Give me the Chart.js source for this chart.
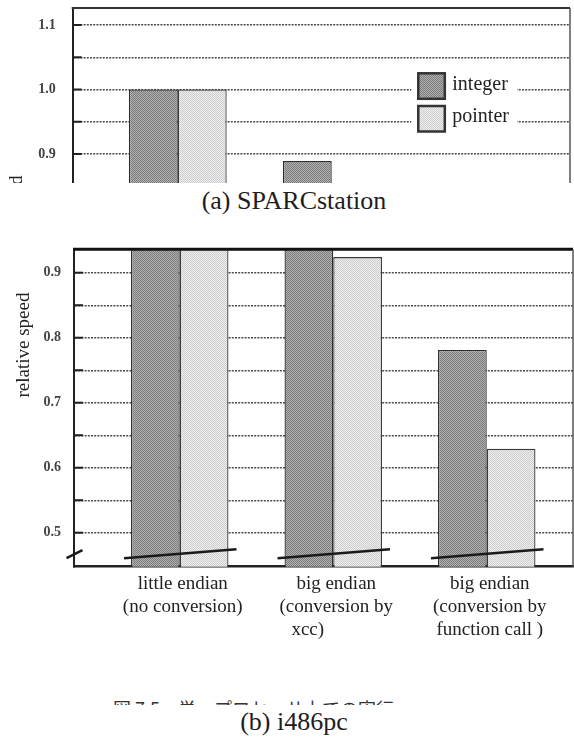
<!DOCTYPE html>
<html lang="ja">
<head>
<meta charset="utf-8">
<title>relative speed</title>
<script src="https://cdn.jsdelivr.net/npm/chart.js@4.4.1/dist/chart.umd.min.js"></script>
<style>
  html, body { margin: 0; padding: 0; background: #fff; }
  body { width: 574px; height: 740px; position: relative; overflow: hidden;
         font-family: "Liberation Serif", "Times New Roman", serif; color: #1e1e1e; }
  #panelA { position: absolute; left: 0; top: 0; width: 574px; height: 183px; }
  #panelB { position: absolute; left: 0; top: 230px; width: 574px; height: 430px; }
  .caption { position: absolute; left: 144px; width: 300px; text-align: center;
             font-size: 26px; line-height: 26px; }
  #capA { top: 188px; }
  #capB { top: 709px; }
  #figNote { position: absolute; left: 113px; top: 699px; height: 5.5px; overflow: hidden;
             font-family: "Noto Sans CJK JP", sans-serif; font-size: 18px; line-height: 18px;
             color: #333; white-space: nowrap; }
</style>
</head>
<body>
<div id="panelA"><canvas id="chartA" width="574" height="183"></canvas></div>
<div class="caption" id="capA">(a) SPARCstation</div>
<div id="panelB"><canvas id="chartB" width="574" height="430"></canvas></div>
<div id="figNote">図 7.5　単一プロセッサ上での実行</div>
<div class="caption" id="capB">(b) i486pc</div>

<script>
// 1. データ
const groupLabels = [
  ["little endian", "(no conversion)"],
  ["big endian", "(conversion by", "xcc)\u2003\u2003\u2003"],
  ["big endian", "(conversion by", "function call )"]
];
const seriesNames = ["integer", "pointer"];
const yTitle = "relative speed";

// (a) SPARCstation : 下側は切れているので見えない棒は null
const sparcInteger = [1.0, 0.889, null];
const sparcPointer = [1.0, null, null];
const sparcTickLabels = [0.9, 1.0, 1.1];

// (b) i486pc
const pcInteger = [1.0, 0.96, 0.781];
const pcPointer = [1.0, 0.924, 0.629];
const pcTickLabels = [0.5, 0.6, 0.7, 0.8, 0.9];

Chart.defaults.font.family = '"Liberation Serif", "Times New Roman", serif';
Chart.defaults.color = '#222';

// 2. 網かけ（スクリーントーン風）
function makeTone(c1, c2) {
  const pc = document.createElement('canvas');
  pc.width = 2; pc.height = 2;
  const p = pc.getContext('2d');
  p.fillStyle = c2; p.fillRect(0, 0, 2, 2);
  p.fillStyle = c1; p.fillRect(0, 0, 1, 1); p.fillRect(1, 1, 1, 1);
  return p.createPattern(pc, 'repeat');
}
const darkTone = makeTone('#7a7a7a', '#b2b2b2');
const lightTone = makeTone('#cdcdcd', '#efefef');

const toPoints = arr => arr.map((v, i) => ({ x: i, y: v }));
const tickText = labels => v => labels.some(l => Math.abs(l - v) < 1e-6) ? v.toFixed(1) : '';
const groupTicks = s => { s.ticks = groupLabels.map((g, i) => ({ value: i })); };

// 3. 枠・目盛り・省略線
const framePlugin = {
  id: 'frame',
  afterDatasetsDraw(chart, args, opts) {
    const { ctx, chartArea: a, scales: { y } } = chart;
    ctx.save();
    ctx.strokeStyle = '#222';
    ctx.lineWidth = 2;
    y.ticks.forEach(t => {
      const py = y.getPixelForValue(t.value);
      if (py > a.bottom - 4) return;
      ctx.beginPath(); ctx.moveTo(a.left, py); ctx.lineTo(a.left + 9, py); ctx.stroke();
    });
    // 上の枠
    ctx.strokeStyle = opts.topColor;
    ctx.lineWidth = opts.topWidth;
    ctx.beginPath(); ctx.moveTo(a.left - 1, a.top); ctx.lineTo(a.right, a.top); ctx.stroke();
    // 右の枠
    ctx.strokeStyle = '#555';
    ctx.lineWidth = 1.5;
    ctx.beginPath(); ctx.moveTo(a.right, a.top); ctx.lineTo(a.right, a.bottom); ctx.stroke();

    if (opts.breaks) {
      ctx.strokeStyle = '#1a1a1a';
      ctx.lineWidth = 2.5;
      ctx.beginPath(); ctx.moveTo(a.left - 7.5, a.bottom - 8.5); ctx.lineTo(a.left + 8.5, a.bottom - 16.5); ctx.stroke();
      const m0 = chart.getDatasetMeta(0).data;
      const m1 = chart.getDatasetMeta(1).data;
      m0.forEach((el, i) => {
        const el2 = m1[i];
        if (!el2) return;
        ctx.beginPath();
        ctx.moveTo(el.x - el.width / 2 - 7, a.bottom - 8.5);
        ctx.lineTo(el2.x + el2.width / 2 + 8, a.bottom - 17.5);
        ctx.stroke();
      });
    }
    ctx.restore();
  }
};

// 凡例（枠の中に白抜きで描く）
const boxLegend = {
  id: 'boxLegend',
  afterDatasetsDraw(chart, args, opts) {
    if (!opts.show) return;
    const { ctx, chartArea: a } = chart;
    const x0 = a.left + opts.dx, y0 = a.top + opts.dy;
    ctx.save();
    ctx.fillStyle = '#fff';
    ctx.fillRect(x0 - 7, y0 - 8, 106, 74);
    chart.data.datasets.forEach((ds, i) => {
      const by = y0 + i * 32.7;
      ctx.fillStyle = ds.backgroundColor;
      ctx.fillRect(x0, by, 26.5, 25.5);
      ctx.strokeStyle = '#333';
      ctx.lineWidth = 2.5;
      ctx.strokeRect(x0, by, 26.5, 25.5);
      ctx.fillStyle = '#222';
      ctx.font = '20px "Liberation Serif"';
      ctx.textBaseline = 'middle';
      ctx.fillText(ds.label, x0 + 34, by + 11);
    });
    ctx.restore();
  }
};

// 縦軸タイトル
const yTitlePlugin = {
  id: 'yTitle',
  afterDraw(chart, args, opts) {
    const { ctx, chartArea: a } = chart;
    ctx.save();
    ctx.translate(opts.x, a.top + opts.dy);
    ctx.rotate(-Math.PI / 2);
    ctx.font = '19px "Liberation Serif"';
    ctx.fillStyle = '#222';
    ctx.textAlign = 'center';
    ctx.textBaseline = 'alphabetic';
    ctx.fillText(yTitle, 0, 0);
    ctx.restore();
  }
};

function makeDatasets(intData, ptrData) {
  return [
    { label: seriesNames[0], data: toPoints(intData), backgroundColor: darkTone,
      borderColor: '#2e2e2e', borderWidth: 1.3, categoryPercentage: 0.635, barPercentage: 1 },
    { label: seriesNames[1], data: toPoints(ptrData), backgroundColor: lightTone,
      borderColor: '#3a3a3a', borderWidth: 1.3, categoryPercentage: 0.635, barPercentage: 1 }
  ];
}

function yScale(min, max, labels, width, pad) {
  return {
    min: min, max: max,
    afterFit: s => { s.width = width; s.paddingTop = 0; s.paddingBottom = 0; },
    ticks: { stepSize: 0.05, includeBounds: false, padding: pad, color: '#444',
             font: { size: 14, weight: 'bold' }, callback: tickText(labels) },
    grid: { drawTicks: false, lineWidth: 1.4,
            color: c => (c.tick && c.tick.value < 0.49) ? 'rgba(0,0,0,0)' : '#4a4a4a' },
    border: { display: true, color: '#222', width: 2, dash: [2, 1.2] }
  };
}

// 4. (a) SPARCstation
new Chart(document.getElementById('chartA'), {
  type: 'bar',
  data: { datasets: makeDatasets(sparcInteger, sparcPointer) },
  options: {
    responsive: false, animation: false,
    layout: { autoPadding: false, padding: { left: 0, right: 4, top: 8, bottom: 0 } },
    scales: {
      x: { type: 'linear', display: false, offset: false, min: -0.683, max: 2.548,
           afterBuildTicks: groupTicks },
      y: yScale(0.855, 1.1264, sparcTickLabels, 72.7, 17)
    },
    plugins: {
      legend: { display: false },
      tooltip: { enabled: false },
      frame: { topColor: '#333', topWidth: 2, breaks: false },
      boxLegend: { show: true, dx: 345.6, dy: 65.3 },
      yTitle: { x: 21.5, dy: 220 }
    }
  },
  plugins: [framePlugin, boxLegend, yTitlePlugin]
});

// 5. (b) i486pc
new Chart(document.getElementById('chartB'), {
  type: 'bar',
  data: { datasets: makeDatasets(pcInteger, pcPointer) },
  options: {
    responsive: false, animation: false,
    layout: { autoPadding: false, padding: { left: 0, right: 1, top: 19.3, bottom: 0 } },
    scales: {
      x: {
        type: 'linear', offset: false, min: -0.689, max: 2.562,
        afterBuildTicks: groupTicks,
        afterFit: s => { s.height = 93.3; },
        ticks: { maxRotation: 0, autoSkip: false, padding: 6, labelOffset: 3, color: '#222',
                 font: { size: 19, lineHeight: 1.2 }, callback: v => groupLabels[v] },
        grid: { display: false, drawTicks: false },
        border: { display: true, color: '#222', width: 2.5 }
      },
      y: yScale(0.4477, 0.936, pcTickLabels, 74, 13)
    },
    plugins: {
      legend: { display: false },
      tooltip: { enabled: false },
      frame: { topColor: '#111', topWidth: 3, breaks: true },
      boxLegend: { show: false },
      yTitle: { x: 28.5, dy: 95.7 }
    }
  },
  plugins: [framePlugin, boxLegend, yTitlePlugin]
});
</script>
</body>
</html>
